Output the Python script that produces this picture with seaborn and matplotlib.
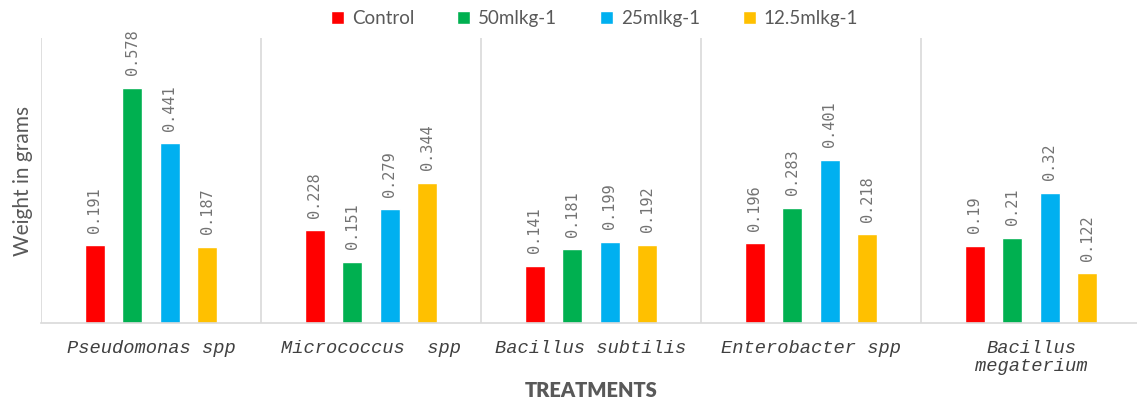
import numpy as np
import pandas as pd
import matplotlib
matplotlib.use("Agg")
import matplotlib.pyplot as plt
import seaborn as sns

categories = ["Pseudomonas spp", "Micrococcus  spp", "Bacillus subtilis", "Enterobacter spp", "Bacillus\nmegaterium"]
series_names = ["Control", "50mlkg-1", "25mlkg-1", "12.5mlkg-1"]
control = [0.191, 0.228, 0.141, 0.196, 0.19]
dose_50 = [0.578, 0.151, 0.181, 0.283, 0.21]
dose_25 = [0.441, 0.279, 0.199, 0.401, 0.32]
dose_12_5 = [0.187, 0.344, 0.192, 0.218, 0.122]
colors = ["#FF0000", "#00B050", "#00B0F0", "#FFC000"]

rows = []
for name, vals in zip(series_names, [control, dose_50, dose_25, dose_12_5]):
    for c, v in zip(categories, vals):
        rows.append({"Treatment": c, "Series": name, "Weight": v})
df = pd.DataFrame(rows)

sns.set_theme(style="white")
plt.rcParams["font.family"] = ["Lato", "DejaVu Sans"]

fig = plt.figure(figsize=(11.37, 4.08), dpi=100)
ax = fig.add_axes([41/1137, 85/408, 1100/1137, 285/408])

sns.barplot(data=df, x="Treatment", y="Weight", hue="Series", order=categories,
            hue_order=series_names, palette=colors, width=0.68, gap=0.46,
            saturation=1, ax=ax, legend=True, errorbar=None)

gray = "#595959"
for cont in ax.containers:
    labels = ["{:g}".format(v) for v in cont.datavalues]
    ax.bar_label(cont, labels=labels, rotation=90, padding=9, color="#737373",
                 fontsize=11, family="DejaVu Sans Mono")

ax.set_ylim(0, 0.7)
ax.set_xlim(-0.5, len(categories) - 0.5)
ax.set_yticks([])
ax.set_xticks(np.arange(len(categories)))
ax.set_xticklabels(categories, family="Liberation Mono", style="italic",
                   fontsize=13.5, color="#404040", linespacing=1.1)
ax.set_xticks(np.arange(len(categories) + 1) - 0.5, minor=True)
ax.tick_params(axis="x", which="major", length=0, pad=12)
ax.tick_params(axis="x", which="minor", length=4, color="#D9D9D9", width=1.2)
ax.grid(axis="x", which="minor", color="#D9D9D9", linewidth=1.2)
ax.grid(axis="y", visible=False)
for s in ["top", "right"]:
    ax.spines[s].set_visible(False)
ax.spines["left"].set_visible(False)
ax.spines["bottom"].set_color("#D9D9D9")
ax.spines["bottom"].set_linewidth(1.2)

ax.set_xlabel("TREATMENTS", fontsize=14.5, fontweight="heavy", color=gray, labelpad=4)
ax.set_ylabel("Weight in grams", fontsize=15, color=gray, labelpad=6)

handles, labels = ax.get_legend_handles_labels()
ax.get_legend().remove()
fig.legend(handles, labels, loc="center", bbox_to_anchor=(0.523, 0.955), ncol=4,
           frameon=False, handlelength=0.7, handleheight=0.7, handletextpad=0.4,
           columnspacing=2.3, prop={"size": 13.5}, labelcolor=gray)

fig.savefig("out.png", dpi=100)
